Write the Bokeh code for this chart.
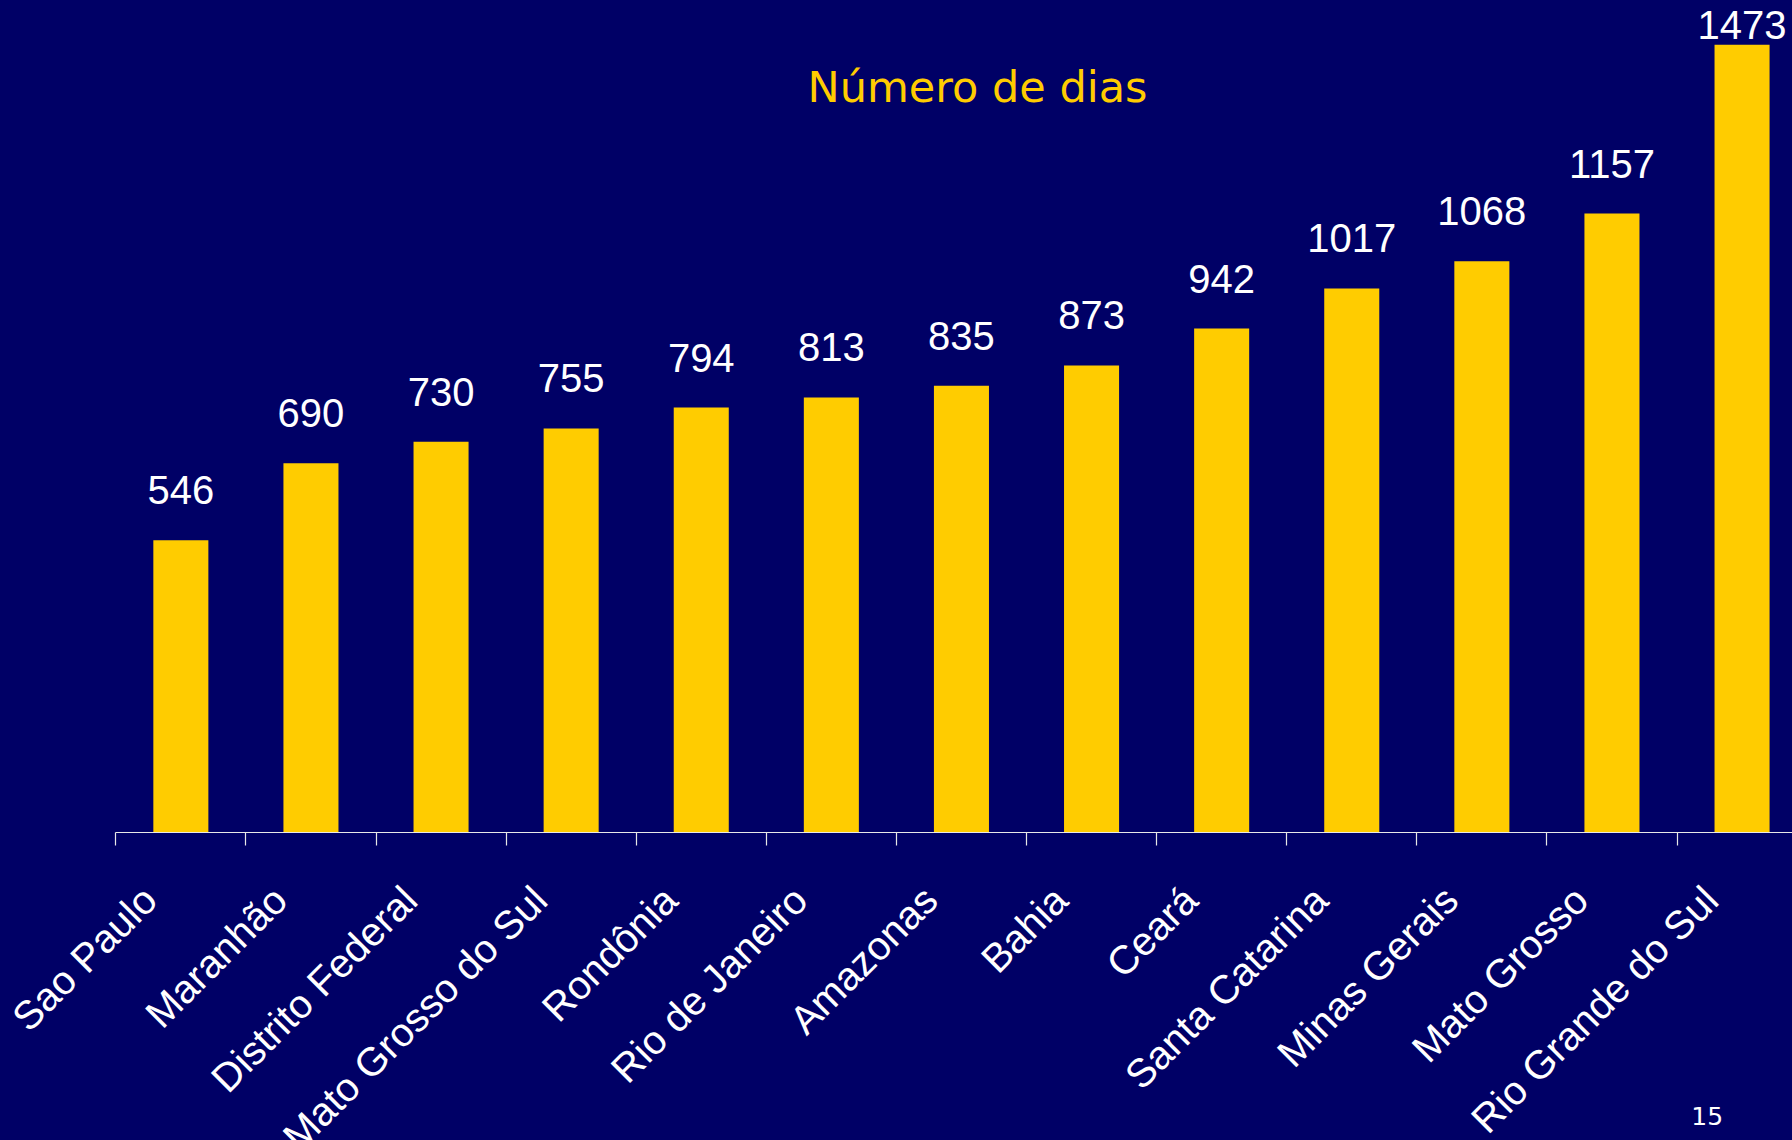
import math
from jinja2 import Template
from bokeh.plotting import figure
from bokeh.models import Range1d, LinearAxis, FixedTicker, ColumnDataSource, Label
from bokeh.embed import file_html
from bokeh.resources import INLINE
from bokeh.core.properties import value

# ---- data ----
states = ["Sao Paulo", "Maranhão", "Distrito Federal", "Mato Grosso do Sul",
          "Rondônia", "Rio de Janeiro", "Amazonas", "Bahia", "Ceará",
          "Santa Catarina", "Minas Gerais", "Mato Grosso", "Rio Grande do Sul"]
days = [546, 690, 730, 755, 794, 813, 835, 873, 942, 1017, 1068, 1157, 1473]
title_text = "Número de dias"
page_number = "15"

# ---- style / geometry ----
BG = "#000066"
GOLD = "#FFCC00"
W, H = 1792, 1140
PAGE_OFF = 1.0       # canvas sits ~1px inside the page
AXIS_X0 = 116.3      # page px of the first category boundary
AXIS_Y0 = 832.5      # page px of the baseline (value 0)
CAT_PX = 130.1
PX_PER_UNIT = 0.5345
BASE_FIX = 0.4       # em correction for the rendered text baseline

x_start = -(AXIS_X0 - PAGE_OFF) / CAT_PX
x_end = (W - (AXIS_X0 - PAGE_OFF)) / CAT_PX
y_end = (AXIS_Y0 - PAGE_OFF) / PX_PER_UNIT
y_start = -(H - (AXIS_Y0 - PAGE_OFF)) / PX_PER_UNIT


def px_x(px):
    return (px - AXIS_X0) / CAT_PX


def px_y(px):
    return (AXIS_Y0 - px) / PX_PER_UNIT


n = len(states)
centers = [i + 0.5 for i in range(n)]
bounds = list(range(n + 1))
label_shift = 0.24   # rotated labels end a little left of the bar centre
label_ticks = [c - label_shift for c in centers]

# value label baseline 34px above the bar, kept inside the top of the chart
VAL_FS = 40
lab_off = (34 + BASE_FIX * VAL_FS) / PX_PER_UNIT
lab_cap = px_y(41.7 - BASE_FIX * VAL_FS)
label_y = [min(d + lab_off, lab_cap) for d in days]

src = ColumnDataSource(dict(x=centers, top=days, ly=label_y,
                            txt=[str(d) for d in days]))

p = figure(width=W, height=H,
           x_range=Range1d(x_start, x_end), y_range=Range1d(y_start, y_end),
           output_backend="svg", toolbar_location=None,
           x_axis_location=None, y_axis_location=None,
           min_border=0, min_border_left=0, min_border_right=0,
           min_border_top=0, min_border_bottom=0,
           background_fill_color=BG, border_fill_color=BG,
           outline_line_color=None)
p.xgrid.visible = False
p.ygrid.visible = False

p.vbar(x="x", top="top", bottom=0, width=0.423, source=src,
       fill_color=GOLD, line_color=None)

p.text(x="x", y="ly", text="txt", source=src,
       text_font=value("Liberation Sans"), text_font_size=f"{VAL_FS}px",
       text_color="white", text_align="center", text_baseline="alphabetic")

xaxis = LinearAxis(ticker=FixedTicker(ticks=label_ticks, minor_ticks=bounds),
                   fixed_location=0, bounds=(0, n))
xaxis.major_label_overrides = {t: s for t, s in zip(label_ticks, states)}
xaxis.axis_line_color = "#E8E8E8"
xaxis.axis_line_width = 1.2
xaxis.major_tick_line_color = None
xaxis.major_tick_out = 0
xaxis.major_tick_in = 0
xaxis.minor_tick_line_color = "#E8E8E8"
xaxis.minor_tick_line_width = 1.2
xaxis.minor_tick_out = 13
xaxis.minor_tick_in = 0
xaxis.major_label_orientation = math.pi / 4
xaxis.major_label_standoff = 48
xaxis.major_label_text_font = "Liberation Sans"
xaxis.major_label_text_font_size = "40px"
xaxis.major_label_text_color = "white"
p.add_layout(xaxis, "below")

TITLE_FS = 43
p.add_layout(Label(x=px_x(978), y=px_y(104.3 - BASE_FIX * TITLE_FS),
                   text=title_text,
                   text_font="DejaVu Sans", text_font_size=f"{TITLE_FS}px",
                   text_color=GOLD, text_align="center",
                   text_baseline="alphabetic"))

PAGE_FS = 25
p.add_layout(Label(x=px_x(1707.7), y=px_y(1126.7 - BASE_FIX * PAGE_FS),
                   text=page_number,
                   text_font="DejaVu Sans", text_font_size=f"{PAGE_FS}px",
                   text_color="white", text_align="center",
                   text_baseline="alphabetic"))

TEMPLATE = Template("{% extends base %}{% block preamble %}"
                    "<style>html, body { background: #000066; }</style>"
                    "{% endblock %}")
open("out.html", "w").write(file_html(p, INLINE, template=TEMPLATE))
